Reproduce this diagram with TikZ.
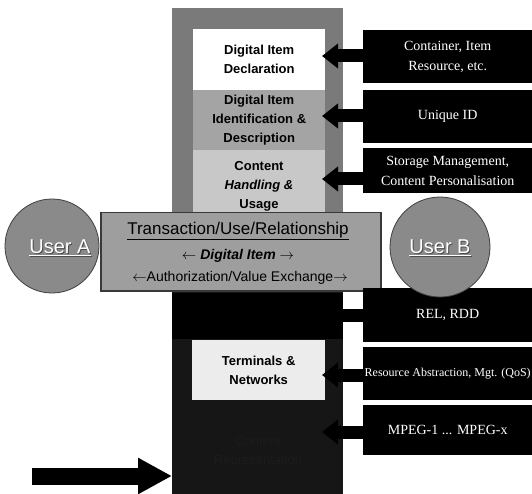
\documentclass[tikz,border=0pt]{standalone}
\usepackage{fontspec}
\setmainfont{Liberation Sans}
\newfontfamily\seriffam{Liberation Serif}
\usetikzlibrary{arrows.meta}
\definecolor{colgray}{HTML}{7A7A7A}
\definecolor{lowblack}{HTML}{161616}
\definecolor{idgray}{HTML}{A4A4A4}
\definecolor{chgray}{HTML}{C8C8C8}
\definecolor{bandgray}{HTML}{9E9E9E}
\definecolor{usergray}{HTML}{8A8A8A}
\definecolor{termgray}{HTML}{ECECEC}
\begin{document}
\begin{tikzpicture}[x=1pt,y=-1pt,
  area/.style={anchor=north west, inner sep=0pt, draw=none},
  midbox/.style={area, align=center, font=\bfseries\fontsize{13}{19}\selectfont},
  midtext/.style={align=center, inner sep=0pt, font=\bfseries\fontsize{13}{19}\selectfont},
  rbox/.style={area, fill=black, text=white, align=center, minimum width=169pt,
    font=\seriffam\fontsize{14}{20}\selectfont},
  feed/.style={line width=13pt, -{Triangle[length=16pt,width=24pt]}},
  bigfeed/.style={line width=17pt, -{Triangle[length=34pt,width=34pt]}},
  userc/.style={circle, fill=usergray, draw=gray!50!black, line width=0.8pt, inner sep=0pt},
  usertext/.style={text=white, font=\fontsize{20}{22}\selectfont},
  bandtext/.style={font=\fontsize{14}{16}\selectfont, inner sep=0pt}
]
\useasboundingbox (0,0) rectangle (532,494);
\clip (0,0) rectangle (532,494);
\fill[white] (0,0) rectangle (532,494);

% column
\node[area, fill=colgray, minimum width=171pt, minimum height=282pt] (col) at (172,8) {};
\node[area, fill=lowblack, minimum width=171pt, minimum height=204pt] (low) at (172,290) {};
\node[area, fill=black, minimum width=171pt, minimum height=46pt] (ipmp) at (172,293) {};

% layers
\node[midbox, fill=white, minimum width=132pt, minimum height=61pt] (did) at (193,29)
  {Digital Item\\Declaration};
\node[midbox, fill=idgray, minimum width=132pt, minimum height=60pt] (diid) at (193,90)
  {Digital Item\\Identification \&\\Description};
\node[area, fill=chgray, minimum width=132pt, minimum height=63pt] (chu) at (193,150) {};
\node[midtext] (chut) at (259,186) {Content\\\textit{Handling \&}\\Usage};
\node[midbox, fill=termgray, minimum width=133pt, minimum height=60pt] (term) at (192,340)
  {Terminals \&\\Networks};
\node[align=center, text=gray!22!black, font=\fontsize{13}{19}\selectfont] (crep) at (258,452)
  {Content\\Representation};

% central band
\node[area, fill=bandgray, draw=gray!45!black, line width=1.5pt, minimum width=280pt,
  minimum height=78pt] (band) at (100,212) {};
\node[bandtext, font=\fontsize{17}{19}\selectfont] (t1) at (238,231)
  {\underline{Transaction/Use/Relationship}};
\node[bandtext, font=\bfseries\itshape\fontsize{14}{16}\selectfont] (t2) at (238,256)
  {$\leftarrow$ Digital Item $\rightarrow$};
\node[bandtext] (t3) at (240,278) {$\leftarrow$Authorization/Value Exchange$\rightarrow$};

% users
\node[userc, minimum size=94pt] (ua) at (52,246) {};
\node[usertext, text=black!70] at (61,249) {\underline{User A}};
\node[usertext] (uat) at (60,248) {\underline{User A}};

% right boxes
\node[rbox, minimum height=53pt] (r1) at (363,30) {Container, Item\\Resource, etc.};
\node[rbox, minimum height=53pt] (r2) at (363,90) {Unique ID};
\node[rbox, minimum height=45pt] (r3) at (363,148)
  {Storage Management,\\Content Personalisation};
\node[rbox, minimum height=54pt] (r4) at (363,288) {REL, RDD};
\node[rbox, minimum height=53pt, font=\seriffam\fontsize{12}{14}\selectfont] (r5) at (363,347)
  {Resource Abstraction, Mgt. (QoS)};
\node[rbox, minimum height=50pt] (r6) at (363,405) {MPEG-1 ... MPEG-x};

\node[userc, minimum size=100pt] (ub) at (440,247) {};
\node[usertext, text=black!70] at (441,249) {\underline{User B}};
\node[usertext] (ubt) at (440,248) {\underline{User B}};

% connectors
\coordinate (a1) at (322,56);
\coordinate (a2) at (322,116);
\coordinate (a3) at (322,179);
\coordinate (a4) at (322,315);
\coordinate (a5) at (322,375);
\coordinate (a6) at (322,432);
\draw[feed] (r1.west |- a1) -- (a1);
\draw[feed] (r2.west |- a2) -- (a2);
\draw[feed] (r3.west |- a3) -- (a3);
\draw[feed] (r4.west |- a4) -- (a4);
\draw[feed] (r5.west |- a5) -- (a5);
\draw[feed] (r6.west |- a6) -- (a6);

\coordinate (ev) at (32,476);
\draw[bigfeed] (ev) -- (low.west |- ev);
\end{tikzpicture}
\end{document}
